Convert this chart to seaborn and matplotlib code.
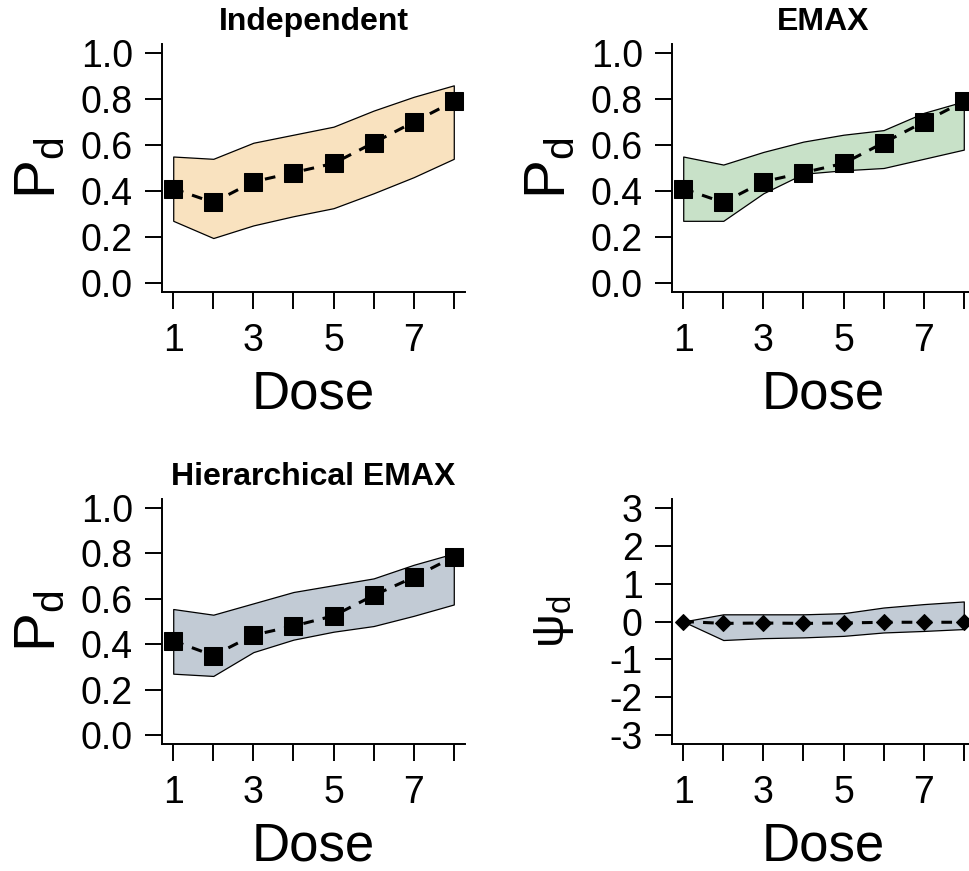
import numpy as np
import pandas as pd
import seaborn as sns
import matplotlib

matplotlib.use("Agg")
import matplotlib.pyplot as plt

# data
dose = [1, 2, 3, 4, 5, 6, 7, 8]

indep_mean = [0.41, 0.35, 0.44, 0.48, 0.52, 0.61, 0.70, 0.79]
indep_upper = [0.55, 0.54, 0.61, 0.645, 0.68, 0.75, 0.81, 0.86]
indep_lower = [0.27, 0.195, 0.25, 0.29, 0.325, 0.39, 0.46, 0.54]

emax_mean = [0.41, 0.35, 0.44, 0.48, 0.52, 0.61, 0.70, 0.79]
emax_upper = [0.55, 0.515, 0.57, 0.615, 0.645, 0.665, 0.74, 0.79]
emax_lower = [0.27, 0.27, 0.39, 0.475, 0.49, 0.50, 0.54, 0.58]

hier_mean = [0.415, 0.35, 0.44, 0.48, 0.525, 0.615, 0.695, 0.785]
hier_upper = [0.555, 0.53, 0.58, 0.63, 0.66, 0.69, 0.75, 0.80]
hier_lower = [0.27, 0.26, 0.365, 0.42, 0.455, 0.48, 0.525, 0.575]

psi_mean = [0.0, -0.05, -0.04, -0.05, -0.04, -0.02, -0.02, -0.02]
psi_upper = [0.0, 0.19, 0.19, 0.19, 0.22, 0.37, 0.46, 0.53]
psi_lower = [0.0, -0.49, -0.44, -0.42, -0.38, -0.29, -0.25, -0.20]

fill_colors = {
    "indep": "#F9E2BF",
    "emax": "#C8E1C8",
    "hier": "#C2CBD5",
}

sns.set_theme(style="ticks")
plt.rcParams["font.family"] = ["Liberation Sans", "DejaVu Sans"]
plt.rcParams["mathtext.default"] = "regular"
plt.rcParams["text.color"] = "black"
plt.rcParams["axes.labelcolor"] = "black"

W, H = 969, 871
fig = plt.figure(figsize=(W / 100, H / 100), dpi=100)


def make_axes(x0, y0, x1, y1):
    return fig.add_axes([x0 / W, 1 - y1 / H, (x1 - x0) / W, (y1 - y0) / H])


def panel(ax, mean, lower, upper, color, ylim, yticks, ylabel, title, marker,
          msize, ysize=42, ypad=10):
    ax.fill_between(dose, lower, upper, facecolor=color, edgecolor="black",
                    linewidth=0.9, zorder=1)
    df = pd.DataFrame({"Dose": dose, "value": mean})
    sns.lineplot(data=df, x="Dose", y="value", ax=ax, color="black",
                 linestyle=(0, (3.5, 3)), linewidth=2.2, marker=marker,
                 markersize=msize, markeredgecolor="black", zorder=3)
    ax.set_xlim(0.72, 8.28)
    ax.set_ylim(*ylim)
    ax.set_xticks(dose)
    ax.set_xticklabels(["1", "", "3", "", "5", "", "7", ""])
    ax.set_yticks(yticks)
    if ylim[1] < 2:
        ax.set_yticklabels([f"{v:.1f}" for v in yticks])
    else:
        ax.set_yticklabels([str(v) for v in yticks])
    for s in ["top", "right"]:
        ax.spines[s].set_visible(False)
    for s in ["left", "bottom"]:
        ax.spines[s].set_linewidth(1.4)
        ax.spines[s].set_color("black")
    ax.tick_params(axis="both", direction="out", length=12, width=1.4,
                   colors="black", labelsize=27)
    ax.tick_params(axis="x", pad=10)
    ax.tick_params(axis="y", pad=9)
    ax.set_xlabel("Dose", fontsize=38, labelpad=8, color="black")
    ax.set_ylabel(ylabel, fontsize=ysize, labelpad=ypad, color="black")
    if title:
        ax.set_title(title, fontsize=23, fontweight="bold", pad=10, color="black")
    ax.grid(False)


ax1 = make_axes(162, 44, 465, 292)
panel(ax1, indep_mean, indep_lower, indep_upper, fill_colors["indep"],
      (-0.04, 1.04), [0.0, 0.2, 0.4, 0.6, 0.8, 1.0], "$P_d$", "Independent", "s", 13)

ax2 = make_axes(672, 44, 975, 292)
panel(ax2, emax_mean, emax_lower, emax_upper, fill_colors["emax"],
      (-0.04, 1.04), [0.0, 0.2, 0.4, 0.6, 0.8, 1.0], "$P_d$", "EMAX", "s", 13)

ax3 = make_axes(162, 499, 465, 744)
panel(ax3, hier_mean, hier_lower, hier_upper, fill_colors["hier"],
      (-0.04, 1.04), [0.0, 0.2, 0.4, 0.6, 0.8, 1.0], "$P_d$", "Hierarchical EMAX", "s", 13)

ax4 = make_axes(672, 499, 975, 744)
panel(ax4, psi_mean, psi_lower, psi_upper, fill_colors["hier"],
      (-3.24, 3.24), [-3, -2, -1, 0, 1, 2, 3], r"$\psi_d$", None, "D", 8,
      ysize=34, ypad=24)

fig.savefig("out.png", dpi=100)
